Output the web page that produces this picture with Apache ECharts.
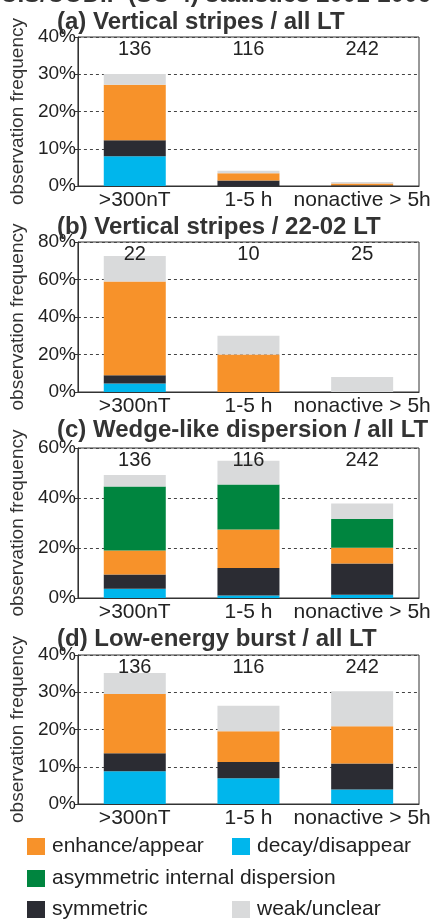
<!DOCTYPE html>
<html>
<head>
<meta charset="utf-8">
<script src="https://cdn.jsdelivr.net/npm/echarts@6/dist/echarts.min.js"></script>
<style>
  html, body { margin: 0; padding: 0; background: #fff; }
  #main { width: 431px; height: 924px; }
</style>
</head>
<body>
<div id="main"></div>
<script>
// data (percent of events)
var categories = ['>300nT', '1-5 h', 'nonactive > 5h'];
var panelTitles = [
  '(a) Vertical stripes / all LT',
  '(b) Vertical stripes / 22-02 LT',
  '(c) Wedge-like dispersion / all LT',
  '(d) Low-energy burst / all LT'
];
var countsA = ['136', '116', '242'];
var countsB = ['22', '10', '25'];
var countsC = ['136', '116', '242'];
var countsD = ['136', '116', '242'];
var yMax = [40, 80, 60, 40];
var yStep = [10, 20, 20, 10];

var names = ['decay/disappear', 'symmetric', 'enhance/appear', 'asymmetric internal dispersion', 'weak/unclear'];
var colors = ['#00b6ec', '#2b2c33', '#f7922a', '#00853f', '#d9dadb'];

// (a)
var decayA = [8.0, 0, 0];
var symA   = [4.3, 1.5, 0.2];
var enhA   = [14.9, 1.9, 0.5];
var asymA  = [0, 0, 0];
var weakA  = [2.9, 0.7, 0.4];
// (b)
var decayB = [4.5, 0, 0];
var symB   = [4.5, 0, 0];
var enhB   = [50.0, 20.0, 0];
var asymB  = [0, 0, 0];
var weakB  = [13.6, 10.0, 8.0];
// (c)
var decayC = [3.7, 1.0, 1.3];
var symC   = [5.7, 11.0, 12.5];
var enhC   = [9.6, 15.4, 6.3];
var asymC  = [25.6, 18.0, 11.5];
var weakC  = [4.6, 9.5, 6.2];
// (d)
var decayD = [8.8, 6.9, 3.9];
var symD   = [4.8, 4.35, 7.0];
var enhD   = [15.9, 8.25, 10.0];
var asymD  = [0, 0, 0];
var weakD  = [5.7, 6.9, 9.4];

var panels = [
  [decayA, symA, enhA, asymA, weakA],
  [decayB, symB, enhB, asymB, weakB],
  [decayC, symC, enhC, asymC, weakC],
  [decayD, symD, enhD, asymD, weakD]
];
var counts = [countsA, countsB, countsC, countsD];

var font = 'Liberation Sans, Arial, Helvetica, sans-serif';
var gridTops = [37, 242, 448, 655];
var gridHeights = [149, 150, 150, 149];
var titleTops = [10, 215, 418, 627];

var grids = [], xAxes = [], yAxes = [], series = [], titles = [];

titles.push({
  text: 'CIS/CODIF (SC-4) statistics 2001-2006',
  left: 'center', top: -17, padding: 0,
  textStyle: { fontFamily: font, fontSize: 24, fontWeight: 'bold', color: '#333' }
});

for (var p = 0; p < 4; p++) {
  grids.push({
    left: 58, right: 12, top: gridTops[p], height: gridHeights[p],
    show: true, borderColor: '#333', borderWidth: 1, backgroundColor: 'transparent'
  });
  titles.push({
    text: panelTitles[p], left: 57, top: titleTops[p], padding: 0,
    textStyle: { fontFamily: font, fontSize: 24, fontWeight: 'bold', color: '#333' }
  });
  // bottom category axis
  xAxes.push({
    type: 'category', gridIndex: p, data: categories, position: 'bottom',
    axisLine: { lineStyle: { color: '#333' } },
    axisTick: { show: false },
    axisLabel: { fontFamily: font, fontSize: 21, color: '#222', margin: 4, interval: 0 }
  });
  // top axis carries the event counts, drawn over the bars
  xAxes.push({
    type: 'category', gridIndex: p, data: counts[p], position: 'top', z: 10,
    axisLine: { show: false }, axisTick: { show: false },
    axisLabel: { inside: true, fontFamily: font, fontSize: 20, color: '#222', margin: 2, interval: 0 }
  });
  yAxes.push({
    type: 'value', gridIndex: p, min: 0, max: yMax[p], interval: yStep[p],
    name: 'observation frequency', nameLocation: 'middle', nameRotate: 90, nameGap: 46,
    nameTextStyle: { fontFamily: font, fontSize: 19, color: '#333' },
    axisLine: { show: true, lineStyle: { color: '#333' } },
    axisTick: { show: true, length: 3, lineStyle: { color: '#333' } },
    axisLabel: { formatter: '{value}%', fontFamily: font, fontSize: 19, color: '#222', margin: 2 },
    splitLine: { show: true, lineStyle: { color: '#444', type: [3, 3], width: 1 } }
  });
  for (var s = 0; s < 5; s++) {
    series.push({
      name: names[s], type: 'bar', stack: 'p' + p,
      xAxisIndex: p * 2, yAxisIndex: p,
      barWidth: 62,
      itemStyle: { color: colors[s] },
      data: panels[p][s],
      silent: true
    });
  }
}

function legendAt(name, left, top) {
  return {
    data: [name], left: left, top: top, padding: 0,
    icon: 'rect', itemWidth: 18, itemHeight: 17, itemGap: 0,
    textStyle: { fontFamily: font, fontSize: 21, color: '#222', padding: [0, 0, 0, 2] },
    selectedMode: false
  };
}

var option = {
  animation: false,
  title: titles,
  grid: grids,
  xAxis: xAxes,
  yAxis: yAxes,
  legend: [
    legendAt('enhance/appear', 27, 836),
    legendAt('decay/disappear', 232, 836),
    legendAt('asymmetric internal dispersion', 27, 868),
    legendAt('symmetric', 27, 899),
    legendAt('weak/unclear', 232, 899)
  ],
  series: series
};

var myChart = echarts.init(document.getElementById('main'));
myChart.setOption(option);
</script>
</body>
</html>
